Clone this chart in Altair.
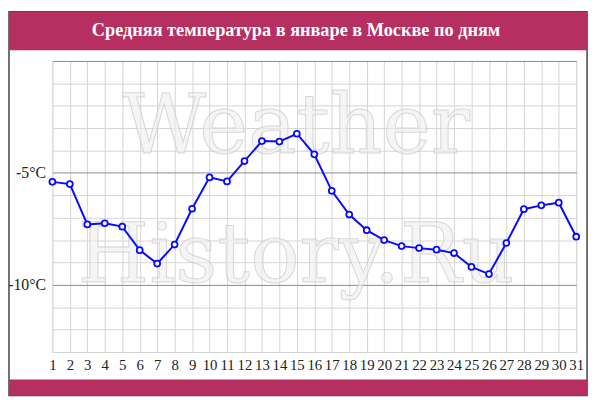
import altair as alt
import pandas as pd

# ---- data ----
days = list(range(1, 32))
temps = [-5.4, -5.5, -7.3, -7.25, -7.4, -8.45, -9.05, -8.2, -6.6, -5.2,
         -5.38, -4.47, -3.58, -3.6, -3.25, -4.17, -5.8, -6.86, -7.56, -8.0,
         -8.27, -8.36, -8.43, -8.58, -9.2, -9.52, -8.13, -6.62, -6.45, -6.33,
         -7.85]
title_text = ["Средняя температура в январе в Москве по дням"]
watermark_1 = ["Weather"]
watermark_2 = ["History.Ru"]
y_ticks = list(range(-13, 1))
x_ticks = days

df = pd.DataFrame({"day": days, "temp": temps})

W, H = 531, 295
PINK = "#b52f60"
BLUE = "#0a0aff"

x_enc = alt.X(
    "day:Q",
    scale=alt.Scale(domain=[1, 31], nice=False, zero=False),
    axis=alt.Axis(
        values=x_ticks, title=None, ticks=False, domain=False, grid=True,
        gridColor="#d4d4d4", gridWidth=1, labelFont="Liberation Serif",
        labelFontSize=15, labelColor="#222", labelPadding=6, labelFlush=False,
        labelOverlap=False,
    ),
)
y_enc = alt.Y(
    "temp:Q",
    scale=alt.Scale(domain=[-13, 0], nice=False, zero=False),
    axis=alt.Axis(
        values=y_ticks, title=None, ticks=False, domain=False, grid=True,
        gridColor={"condition": {"test": "datum.value % 5 === 0", "value": "#8a8a8a"},
                   "value": "#d4d4d4"},
        gridWidth=1, labelOverlap=False,
        labelExpr="(datum.value % 5 === 0 && datum.value !== 0) ? datum.value + '°C' : ''",
        labelFont="Liberation Serif", labelFontSize=16, labelColor="#222",
        labelPadding=7,
    ),
)

base = alt.Chart(df).encode(x=x_enc, y=y_enc)

# decorative frame & bands
one = pd.DataFrame({"t": title_text})
frame = alt.Chart(one).mark_rect(fill="transparent", stroke="#444", strokeWidth=1.5).encode(
    x=alt.value(-44), x2=alt.value(542), y=alt.value(-50), y2=alt.value(339)
)
header = alt.Chart(one).mark_rect(fill=PINK).encode(
    x=alt.value(-44), x2=alt.value(542), y=alt.value(-50), y2=alt.value(-11)
)
footer = alt.Chart(one).mark_rect(fill=PINK).encode(
    x=alt.value(-44), x2=alt.value(542), y=alt.value(323), y2=alt.value(339)
)
title = alt.Chart(one).mark_text(
    font="Liberation Serif", fontSize=18.5, fontWeight="bold", color="white",
    align="center", baseline="middle"
).encode(x=alt.value(247), y=alt.value(-31), text="t:N")

wm1 = alt.Chart(pd.DataFrame({"t": watermark_1})).mark_text(
    font="DejaVu Serif", fontSize=83, fill="#efefef", fillOpacity=0.6,
    stroke="#c4c4c4", strokeWidth=1, strokeOpacity=0.65,
    align="center", baseline="alphabetic"
).encode(x=alt.value(247), y=alt.value(93), text="t:N")
wm2 = alt.Chart(pd.DataFrame({"t": watermark_2})).mark_text(
    font="DejaVu Serif", fontSize=83, fill="#efefef", fillOpacity=0.6,
    stroke="#c4c4c4", strokeWidth=1, strokeOpacity=0.65,
    align="center", baseline="alphabetic"
).encode(x=alt.value(247), y=alt.value(224), text="t:N")

line = base.mark_line(color=BLUE, strokeWidth=2)
pts = base.mark_point(
    filled=True, fill="white", stroke=BLUE, strokeWidth=1.8, size=36, opacity=1
)

chart = alt.layer(frame, header, footer, title, wm1, wm2, line, pts).properties(
    width=W, height=H,
    autosize=alt.AutoSizeParams(type="none"),
    padding={"left": 45, "top": 51, "right": 16, "bottom": 49},
).configure_view(stroke="#444", strokeWidth=1.5).configure(background="white")

chart.save("out.html", embed_options={"renderer": "svg", "actions": False})
